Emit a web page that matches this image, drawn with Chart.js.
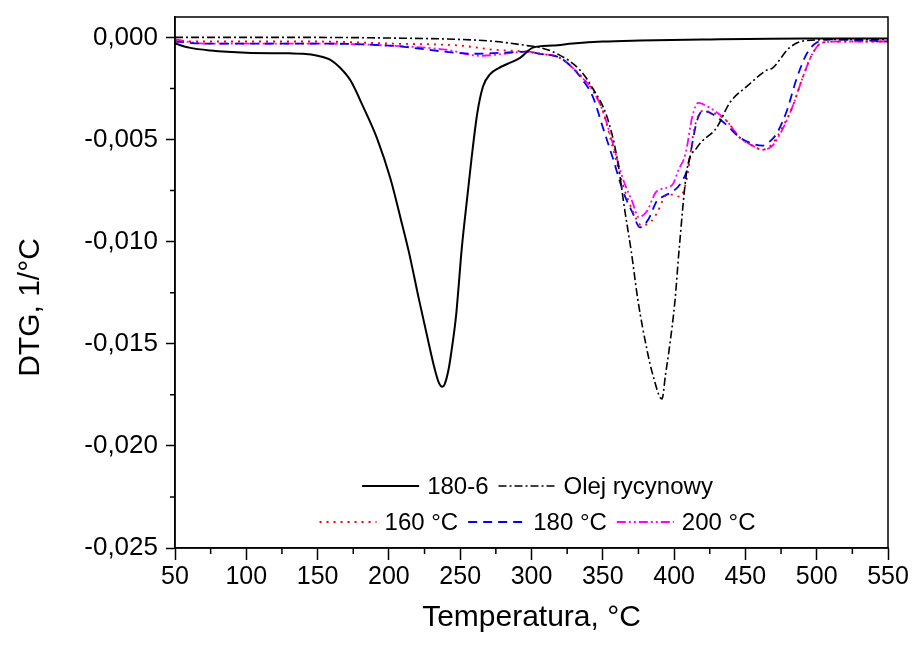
<!DOCTYPE html>
<html>
<head>
<meta charset="utf-8">
<script src="https://cdn.jsdelivr.net/npm/chart.js@4.4.1/dist/chart.umd.min.js"></script>
<style>
  html, body { margin: 0; padding: 0; background: #fff; }
  #wrap { width: 912px; height: 646px; }
</style>
</head>
<body>
<div id="wrap"><canvas id="dtg" width="912" height="646"></canvas></div>
<script>
// temperatures (°C) and DTG values (1/°C)
const t180_6 = [50, 60, 75, 100, 130, 140, 150, 159, 166, 173, 182, 192, 201, 208, 214, 221, 228, 232, 235, 237.3, 239, 242, 244, 247, 249, 251, 255, 258, 262, 266, 271, 277, 283, 292, 301, 315, 329, 350, 376, 420, 493, 550];
const dtg180_6 = [-0.0003, -0.0005, -0.00064, -0.00075, -0.00078, -0.0008, -0.0009, -0.0011, -0.0015, -0.0021, -0.0034, -0.005, -0.0069, -0.0088, -0.0105, -0.0128, -0.015, -0.0162, -0.0169, -0.0171, -0.017, -0.0162, -0.0153, -0.0137, -0.0121, -0.0104, -0.0078, -0.0059, -0.0037, -0.0024, -0.0018, -0.0015, -0.0013, -0.001, -0.0005, -0.0004, -0.0003, -0.0002, -0.00015, -0.0001, -0.00005, -0.00005];

const tOlej = [50, 100, 150, 200, 250, 275, 297, 306, 318, 334, 343, 353, 360, 365.5, 370, 374.7, 381, 385, 391.5, 394, 396.5, 400.6, 403.5, 409, 416, 430, 439, 451, 465, 469, 481, 493, 520, 550];
const dtgOlej = [0, 0, 0, -0.00003, -0.0001, -0.0002, -0.0004, -0.0005, -0.0008, -0.0016, -0.0025, -0.0039, -0.0059, -0.0085, -0.0105, -0.0129, -0.0153, -0.0165, -0.0177, -0.0165, -0.0153, -0.0129, -0.0104, -0.0065, -0.0054, -0.0044, -0.0032, -0.0024, -0.0016, -0.0015, -0.0005, -0.00015, -0.0001, -0.0001];

const t160 = [50, 100, 150, 200, 250, 273, 297, 306, 320, 329, 336, 343, 350, 357, 364, 371, 377, 384, 388, 395, 399, 404, 409, 414, 420, 428, 437, 446, 455, 462, 469, 476, 483, 490, 497, 504, 520, 550];
const dtg160 = [-0.0002, -0.0002, -0.0002, -0.0003, -0.0004, -0.0006, -0.0007, -0.0008, -0.001, -0.0015, -0.002, -0.0026, -0.0036, -0.0054, -0.0072, -0.0085, -0.0092, -0.009, -0.0086, -0.0077, -0.0077, -0.0078, -0.0069, -0.0045, -0.0036, -0.0037, -0.0041, -0.0049, -0.0053, -0.0055, -0.0052, -0.0044, -0.0034, -0.002, -0.0008, -0.00025, -0.0002, -0.0002];

const t180 = [50, 70, 100, 150, 200, 262, 297, 306, 320, 329, 336, 343, 350, 357, 364, 371, 376, 382, 388, 392, 400, 405, 409, 416, 420, 428, 437, 446, 455, 462, 467, 472, 479, 486, 493, 500, 510, 550];
const dtg180 = [-0.0002, -0.0003, -0.0003, -0.0003, -0.0004, -0.0008, -0.0007, -0.0008, -0.001, -0.0015, -0.0021, -0.0029, -0.0044, -0.0059, -0.0075, -0.0086, -0.0093, -0.0089, -0.008, -0.0078, -0.0075, -0.0071, -0.0065, -0.0041, -0.0036, -0.0038, -0.0043, -0.0049, -0.0052, -0.0053, -0.0051, -0.0047, -0.0036, -0.002, -0.0008, -0.00025, -0.0001, -0.0002];

const t200 = [50, 70, 100, 150, 200, 240, 264, 297, 306, 320, 329, 336, 343, 350, 357, 364, 371, 375, 381, 387, 392, 399, 403, 408, 413, 417, 424, 437, 446, 455, 462, 469, 476, 483, 490, 497, 504, 520, 550];
const dtg200 = [-0.0001, -0.0003, -0.0003, -0.0003, -0.0004, -0.0006, -0.0009, -0.0007, -0.0008, -0.001, -0.0015, -0.002, -0.0026, -0.0036, -0.0052, -0.0069, -0.0081, -0.0088, -0.0085, -0.0076, -0.0074, -0.0072, -0.0065, -0.0057, -0.0038, -0.0032, -0.0034, -0.0041, -0.0049, -0.0053, -0.0055, -0.0053, -0.0045, -0.0034, -0.002, -0.0008, -0.00025, -0.0002, -0.0002];

const xTicks = [50, 100, 150, 200, 250, 300, 350, 400, 450, 500, 550];
const xMinor = [75, 125, 175, 225, 275, 325, 375, 425, 475, 525];
const yTicks = [-0.025, -0.02, -0.015, -0.01, -0.005, 0];
const yMinor = [-0.0225, -0.0175, -0.0125, -0.0075, -0.0025];

const FONT = "'Liberation Sans', Arial, sans-serif";

function pts(xs, ys) {
    return xs.map((x, i) => ({x: x, y: ys[i]}));
}

function series(label, xs, ys, color, dash, width) {
    return {
        label: label,
        data: pts(xs, ys),
        borderColor: color,
        backgroundColor: color,
        borderDash: dash,
        borderWidth: width,
        pointRadius: 0,
        fill: false,
        cubicInterpolationMode: 'monotone'
    };
}

// frame, minor ticks and the two-row legend
const extras = {
    id: 'extras',
    afterDraw(chart) {
        const ctx = chart.ctx;
        const a = chart.chartArea;
        const xs = chart.scales.x, ys = chart.scales.y;
        ctx.save();
        ctx.strokeStyle = '#000';
        ctx.lineWidth = 1.5;
        ctx.strokeRect(a.left, a.top, a.right - a.left, a.bottom - a.top);
        ctx.beginPath();
        xMinor.forEach(v => {
            const px = xs.getPixelForValue(v);
            ctx.moveTo(px, a.bottom);
            ctx.lineTo(px, a.bottom + 6);
        });
        yMinor.forEach(v => {
            const py = ys.getPixelForValue(v);
            ctx.moveTo(a.left, py);
            ctx.lineTo(a.left - 5, py);
        });
        ctx.stroke();

        const rows = [[0, 1], [2, 3, 4]];
        const rowY = [a.bottom - 62, a.bottom - 26];
        const lineLen = 57, gapText = 8, gapItem = 10;
        const cx = (a.left + a.right) / 2 + 6;
        ctx.font = '24px ' + FONT;
        ctx.textBaseline = 'middle';
        ctx.textAlign = 'left';
        rows.forEach((row, r) => {
            const ds = row.map(i => chart.data.datasets[i]);
            const widths = ds.map(d => lineLen + gapText + ctx.measureText(d.label).width);
            const total = widths.reduce((s, w) => s + w, 0) + gapItem * (row.length - 1);
            let x = cx - total / 2;
            ds.forEach((d, k) => {
                ctx.beginPath();
                ctx.strokeStyle = d.borderColor;
                ctx.lineWidth = d.borderWidth;
                ctx.setLineDash(d.borderDash || []);
                ctx.moveTo(x, rowY[r]);
                ctx.lineTo(x + lineLen, rowY[r]);
                ctx.stroke();
                ctx.setLineDash([]);
                ctx.fillStyle = '#000';
                ctx.fillText(d.label, x + lineLen + gapText, rowY[r] + 1);
                x += widths[k] + gapItem;
            });
        });
        ctx.restore();
    }
};

new Chart(document.getElementById('dtg').getContext('2d'), {
    type: 'line',
    data: {
        datasets: [
            series('180-6', t180_6, dtg180_6, '#000000', [], 2),
            series('Olej rycynowy', tOlej, dtgOlej, '#000000', [8, 3, 2, 3], 1.6),
            series('160 °C', t160, dtg160, '#ff0000', [2, 5], 1.8),
            series('180 °C', t180, dtg180, '#0000ff', [9, 6], 1.8),
            series('200 °C', t200, dtg200, '#ff00ff', [9, 3, 2, 3, 2, 3], 1.8)
        ]
    },
    options: {
        responsive: false,
        animation: false,
        layout: {padding: {top: 17, right: 24, left: 0, bottom: 0}},
        plugins: {
            legend: {display: false},
            tooltip: {enabled: false}
        },
        scales: {
            x: {
                type: 'linear',
                min: 50,
                max: 550,
                afterFit: s => { s.height = 98; },
                afterBuildTicks: s => { s.ticks = xTicks.map(v => ({value: v})); },
                border: {display: true, color: '#000', width: 1.5},
                grid: {drawOnChartArea: false, drawTicks: true, tickLength: 12, tickColor: '#000', tickWidth: 1.5},
                ticks: {color: '#000', padding: 2, maxRotation: 0, font: {family: FONT, size: 25}},
                title: {display: true, text: 'Temperatura, °C', color: '#000', padding: {top: 0, bottom: 10}, font: {family: FONT, size: 30}}
            },
            y: {
                min: -0.025,
                max: 0.001,
                afterFit: s => { s.width = 175; s.paddingTop = 0; s.paddingBottom = 0; },
                afterBuildTicks: s => { s.ticks = yTicks.map(v => ({value: v})); },
                border: {display: true, color: '#000', width: 1.5},
                grid: {drawOnChartArea: false, drawTicks: true, tickLength: 9, tickColor: '#000', tickWidth: 1.5},
                ticks: {
                    color: '#000',
                    padding: 8,
                    font: {family: FONT, size: 26},
                    callback: v => (v < -1e-9 ? '-' : '') + Math.abs(v).toFixed(3).replace('.', ',')
                },
                title: {display: true, text: 'DTG, 1/°C      ', color: '#000', padding: {top: 13, bottom: 0}, font: {family: FONT, size: 30}}
            }
        }
    },
    plugins: [extras]
});
</script>
</body>
</html>
